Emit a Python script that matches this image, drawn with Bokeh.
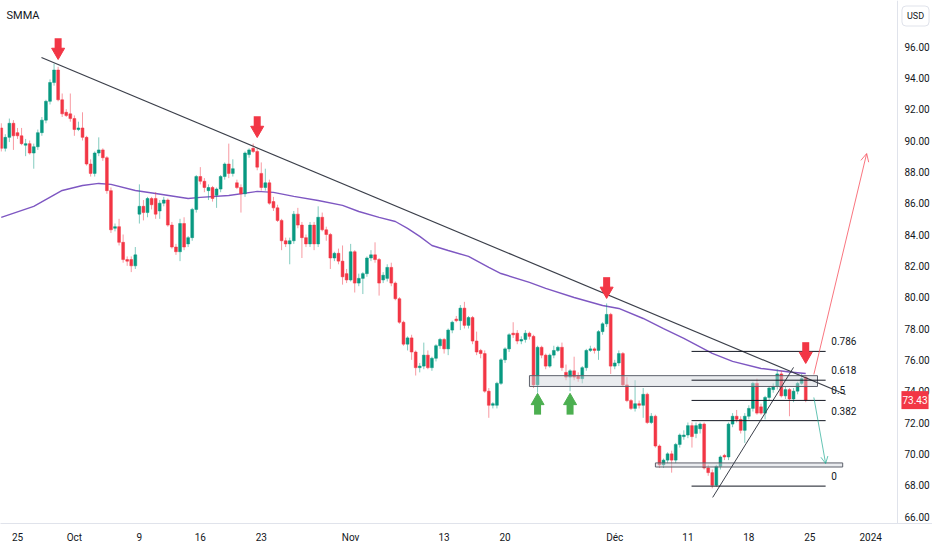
from bokeh.plotting import figure
from bokeh.models import (ColumnDataSource, FixedTicker, Range1d, Label, Arrow,
                          OpenHead, NumeralTickFormatter, Span)
from bokeh.core.properties import value
from bokeh.embed import file_html
from bokeh.resources import INLINE

# ---------------- data ----------------
# one candle every third of a trading day, index 0 = 25 Sep 2023 (first candle of that day)
first_index = -4
opens = [
    90.8, 89.5, 90.2, 91.1, 90.5, 90.3, 89.7, 89.8, 89.2, 89.6,
    90.5, 91.3, 92.5, 93.7, 94.5, 92.6, 91.8, 91.7, 91.4, 90.7,
    90.8, 90.2, 88.5, 87.9, 89.2, 89.4, 88.9, 86.8, 84.4, 84.5,
    83.5, 82.4, 82.4, 82.0, 85.3, 85.8, 85.4, 86.3, 86.3, 85.5,
    86.0, 86.2, 84.6, 83.2, 82.9, 84.7, 83.4, 83.8, 85.6, 87.7,
    87.4, 86.8, 87.0, 86.5, 86.9, 87.7, 88.5, 87.9, 87.3, 87.0,
    86.6, 89.1, 89.5, 89.3, 87.9, 87.0, 87.3, 86.1, 85.7, 84.9,
    83.6, 83.4, 83.6, 85.3, 84.6, 83.8, 83.4, 84.6, 83.4, 85.1,
    84.3, 84.0, 82.5, 82.8, 82.3, 81.5, 81.1, 82.9, 80.9, 81.2,
    81.5, 82.5, 82.7, 82.4, 81.1, 81.2, 81.9, 80.9, 79.9, 78.4,
    77.0, 77.4, 76.5, 75.5, 75.6, 76.3, 75.5, 76.1, 76.9, 77.3,
    76.7, 77.9, 78.6, 78.5, 79.3, 78.2, 78.7, 77.2, 76.6, 76.4,
    74.0, 73.1, 73.1, 74.5, 76.0, 76.7, 77.7, 77.7, 77.2, 77.3,
    77.7, 77.5, 74.4, 76.8, 76.3, 75.6, 76.3, 76.6, 76.8, 75.2,
    74.9, 75.3, 75.0, 74.8, 75.5, 76.6, 76.7, 76.6, 77.8, 78.3,
    78.9, 75.6, 75.8, 76.4, 74.4, 73.4, 72.9, 73.2, 73.1, 73.8,
    72.0, 72.4, 70.5, 69.3, 69.6, 70.0, 69.6, 70.6, 71.1, 71.2,
    71.8, 71.3, 71.6, 71.9, 69.1, 68.8, 68.0, 69.2, 69.9, 69.8,
    71.9, 72.4, 72.2, 71.5, 72.4, 72.9, 74.5, 73.0, 72.6, 73.6,
    74.1, 74.3, 75.1, 73.7, 74.1, 73.5, 74.0, 74.5, 74.9,
]
highs = [
    91.1, 90.4, 91.4, 91.3, 90.8, 90.8, 90.1, 90.0, 89.8, 90.7,
    91.5, 92.6, 93.9, 94.9, 94.7, 93.0, 92.0, 93.0, 91.6, 91.2,
    91.8, 90.3, 88.8, 89.3, 90.2, 89.5, 89.0, 87.0, 84.7, 85.0,
    84.0, 82.6, 82.6, 83.2, 87.2, 86.2, 86.4, 86.4, 86.7, 86.2,
    86.4, 86.3, 84.8, 83.4, 85.0, 85.1, 83.9, 85.7, 87.8, 88.3,
    87.6, 87.2, 87.1, 87.0, 87.8, 88.6, 89.8, 88.8, 87.5, 87.2,
    89.3, 89.5, 89.8, 89.5, 88.6, 88.2, 87.5, 86.4, 85.9, 85.0,
    83.8, 83.8, 85.5, 85.7, 84.8, 84.0, 84.8, 84.8, 85.8, 85.4,
    84.5, 84.1, 82.9, 83.1, 83.3, 81.8, 83.4, 83.0, 81.5, 81.6,
    82.6, 83.0, 83.5, 82.5, 81.6, 82.1, 82.2, 81.0, 80.0, 78.5,
    77.5, 77.6, 76.6, 75.8, 77.1, 76.6, 76.2, 77.0, 77.4, 77.4,
    78.0, 78.5, 78.8, 79.5, 79.7, 78.8, 78.8, 77.8, 76.7, 76.6,
    74.2, 73.3, 74.6, 76.1, 76.8, 77.7, 78.4, 77.9, 77.5, 77.9,
    77.8, 77.6, 76.9, 76.9, 76.4, 76.4, 76.9, 76.9, 77.1, 75.7,
    75.4, 76.2, 75.2, 75.6, 76.7, 76.9, 76.8, 77.9, 78.4, 79.6,
    79.0, 76.0, 76.6, 76.5, 74.9, 73.5, 74.7, 73.4, 74.2, 73.9,
    72.6, 72.5, 70.6, 69.7, 70.1, 70.2, 70.7, 71.3, 71.5, 72.0,
    72.0, 72.0, 72.0, 72.0, 69.3, 69.0, 69.3, 69.9, 70.0, 72.0,
    72.6, 72.8, 72.4, 72.6, 73.1, 74.6, 74.8, 73.2, 73.7, 74.3,
    74.5, 75.4, 75.3, 74.3, 74.2, 74.2, 74.6, 75.1, 75.0,
]
lows = [
    89.3, 89.3, 89.9, 89.4, 90.1, 89.7, 89.0, 89.1, 88.2, 89.4,
    90.3, 91.1, 92.3, 93.5, 92.5, 91.5, 91.5, 91.2, 90.3, 90.6,
    90.0, 88.4, 87.7, 87.7, 89.0, 88.7, 86.6, 84.1, 84.2, 83.3,
    82.2, 82.0, 81.6, 81.8, 84.7, 84.9, 85.1, 85.6, 85.0, 85.0,
    85.8, 84.5, 83.1, 82.7, 82.3, 83.0, 83.2, 83.6, 85.4, 87.2,
    86.7, 86.2, 86.1, 85.7, 86.7, 87.5, 87.6, 87.7, 86.9, 85.4,
    86.4, 88.9, 89.2, 88.1, 86.8, 86.8, 85.9, 85.5, 84.8, 83.0,
    83.2, 82.1, 83.4, 84.4, 82.5, 83.2, 83.2, 83.0, 83.2, 84.2,
    83.6, 81.8, 82.3, 82.1, 80.8, 80.9, 81.0, 80.3, 80.7, 80.2,
    81.3, 82.3, 82.2, 80.1, 80.9, 81.0, 80.7, 79.8, 78.3, 76.9,
    76.6, 76.0, 75.0, 75.2, 75.4, 75.4, 75.3, 75.9, 76.7, 76.4,
    76.3, 77.7, 78.4, 77.9, 78.0, 78.0, 77.0, 76.3, 76.1, 73.9,
    72.3, 72.9, 72.9, 74.4, 75.8, 76.5, 77.4, 77.0, 77.0, 77.1,
    77.3, 74.2, 73.9, 76.1, 75.4, 75.5, 76.1, 76.5, 75.3, 74.7,
    74.0, 74.7, 74.6, 74.5, 75.3, 76.5, 76.4, 76.0, 77.6, 78.1,
    75.1, 75.4, 75.6, 74.3, 73.3, 72.8, 72.7, 72.9, 72.3, 71.9,
    71.9, 70.4, 69.1, 69.1, 69.4, 68.8, 69.4, 70.4, 70.9, 71.0,
    70.4, 71.0, 71.3, 69.0, 68.6, 67.8, 67.9, 69.0, 69.6, 69.6,
    71.7, 72.0, 71.3, 70.7, 72.2, 72.7, 72.5, 72.5, 72.2, 73.4,
    73.9, 74.1, 73.6, 73.5, 72.4, 73.3, 73.8, 74.4, 73.3,
]
closes = [
    89.5, 90.2, 91.1, 90.3, 90.3, 89.8, 89.8, 89.2, 89.6, 90.5,
    91.3, 92.5, 93.7, 94.5, 92.6, 91.7, 91.6, 91.4, 90.7, 90.8,
    90.2, 88.5, 87.9, 89.2, 89.4, 88.9, 86.8, 84.3, 84.5, 83.5,
    82.4, 82.3, 82.0, 82.7, 85.8, 85.4, 86.3, 85.9, 85.3, 86.0,
    86.2, 84.6, 83.2, 82.9, 84.7, 83.2, 83.8, 85.6, 87.7, 87.4,
    87.0, 87.0, 86.3, 86.9, 87.7, 88.5, 87.9, 88.2, 87.0, 86.6,
    89.2, 89.4, 89.3, 88.3, 87.0, 87.3, 86.0, 85.7, 84.9, 83.6,
    83.4, 83.6, 85.3, 84.6, 83.8, 83.4, 84.6, 83.4, 85.1, 84.3,
    84.0, 82.5, 82.8, 82.3, 81.3, 81.1, 82.9, 80.9, 81.2, 81.5,
    82.5, 82.7, 82.4, 80.9, 81.4, 81.9, 80.9, 79.9, 78.4, 77.0,
    77.4, 76.5, 75.5, 75.6, 76.3, 75.5, 76.1, 76.9, 77.3, 76.7,
    77.9, 78.4, 78.5, 79.3, 78.2, 78.7, 77.2, 76.5, 76.4, 74.0,
    73.1, 73.2, 74.5, 76.0, 76.7, 77.6, 77.6, 77.2, 77.3, 77.7,
    77.5, 74.4, 76.8, 76.3, 75.6, 76.3, 76.6, 76.8, 75.5, 74.9,
    75.3, 74.9, 74.8, 75.5, 76.6, 76.7, 76.6, 77.8, 78.3, 78.9,
    75.6, 75.8, 76.4, 74.4, 73.4, 72.9, 73.2, 73.1, 73.8, 72.0,
    72.4, 70.5, 69.3, 69.6, 70.0, 69.6, 70.6, 71.2, 71.2, 71.8,
    71.1, 71.8, 71.9, 69.1, 68.8, 68.0, 69.2, 69.8, 69.8, 71.9,
    72.4, 72.2, 71.5, 72.4, 72.9, 74.5, 72.6, 72.6, 73.6, 74.2,
    74.3, 75.1, 73.7, 74.1, 73.5, 74.0, 74.5, 74.8, 73.43,
]

# SMMA indicator, read as points along the purple curve
smma_k = [-4, 4, 11, 16, 20, 23, 29, 34, 42, 45, 52, 59, 63, 68, 74, 80, 84, 89,
          93, 96, 99, 102, 106, 111, 116, 119, 126, 130, 137, 144, 148, 154, 159,
          164, 171, 176, 183, 190, 194]
smma_v = [85.09, 85.79, 86.81, 87.13, 87.26, 87.20, 86.81, 86.62, 86.30, 86.37,
          86.49, 86.75, 86.69, 86.43, 86.17, 85.86, 85.47, 85.09, 84.83, 84.39,
          83.88, 83.30, 82.98, 82.60, 81.90, 81.51, 80.94, 80.56, 79.98, 79.47,
          79.28, 78.64, 78.00, 77.37, 76.41, 75.90, 75.45, 75.22, 75.13]

# date axis (candle index of the labelled day)
xtick_k = [0, 14, 30, 45, 60, 82, 105, 120, 147, 165, 180, 195, 210]
xtick_labels = ["25", "Oct", "9", "16", "23", "Nov", "13", "20", "Déc", "11", "18", "25", "2024"]
ytick_values = [66, 68, 70, 72, 74, 76, 78, 80, 82, 84, 86, 88, 90, 92, 94, 96]

# drawings
trend_down_k = [5.9, 203.8]
trend_down_p = [95.30, 73.79]
trend_up_k = [171.1, 191.0]
trend_up_p = [67.22, 75.52]
box_left = [126.0, 157.0]
box_right = [196.9, 203.1]
box_bottom = [74.30, 69.16]
box_top = [74.99, 69.42]
fib_low, fib_high = 67.94, 78.88
fib_levels = [0, 0.382, 0.5, 0.618, 0.786]
fib_texts = ["0", "0.382", "0.5", "0.618", "0.786"]
fib_k = [165.9, 198.9]
fib_label_k = 200.3
down_arrow_k = [10, 59, 145, 194]
down_arrow_tip = [95.17, 90.19, 79.92, 75.77]
up_arrow_k = [128, 136]
up_arrow_tip = [73.86, 73.86]
proj_up = (196.0, 75.07, 209.0, 89.17)
proj_down = (196.0, 73.60, 198.9, 69.38)
last_price = 73.43

# ---------------- layout ----------------
W, H = 932, 550
BB = 27                    # x-axis band
FW, FH = W, H - BB         # the frame runs under the price scale
SCALE_X = 897              # page x of the price-scale separator
X0, XPX = 17.0, 4.063      # page x of candle 0, px per candle
Y96, YPX = 46.0, 15.667    # page y of price 96, px per unit
PX = 1.0 / YPX
x_start = (0 - X0) / XPX
x_end = (FW - X0) / XPX
y_top = 96 + Y96 / YPX
y_bot = 96 - (FH - Y96) / YPX

UP, DOWN = "#089981", "#F23645"
TXT = "#131722"
FONT = "Roboto"

idx = list(range(first_index, first_index + len(closes)))
colors = [UP if c >= o else DOWN for o, c in zip(opens, closes)]
src = ColumnDataSource(dict(
    x=idx, o=opens, h=highs, l=lows, c=closes, color=colors,
    top=[max(o, c) for o, c in zip(opens, closes)],
    bottom=[min(o, c) for o, c in zip(opens, closes)],
))

p = figure(width=W, height=H, x_range=Range1d(x_start, x_end),
           y_range=Range1d(y_bot, y_top), output_backend="svg",
           toolbar_location=None, y_axis_location="right",
           min_border_left=0, min_border_right=0, min_border_top=0,
           min_border_bottom=BB)
p.outline_line_color = None
p.background_fill_color = "white"
p.border_fill_color = "white"
p.xgrid.grid_line_color = None
p.ygrid.grid_line_color = None

# axes
p.yaxis.ticker = FixedTicker(ticks=ytick_values)
p.yaxis.formatter = NumeralTickFormatter(format="0.00")
p.xaxis.ticker = FixedTicker(ticks=xtick_k)
p.xaxis.major_label_overrides = {k: t for k, t in zip(xtick_k, xtick_labels)}
for ax in (p.xaxis, p.yaxis):
    ax.major_tick_line_color = None
    ax.minor_tick_line_color = None
    ax.major_tick_out = 0
    ax.major_tick_in = 0
    ax.minor_tick_out = 0
    ax.minor_tick_in = 0
    ax.major_label_text_color = TXT
    ax.major_label_text_font = FONT
    ax.major_label_text_font_size = "10px"
p.xaxis.axis_line_color = "#E0E3EB"
p.yaxis.axis_line_color = None
p.yaxis.major_label_standoff = -(W - SCALE_X) + 7   # labels sit in the price-scale band
p.xaxis.major_label_standoff = 8

# price-scale separator
p.add_layout(Span(location=(SCALE_X - X0) / XPX, dimension="height",
                  line_color="#E0E3EB", line_width=1))

# SMMA
p.line(smma_k, smma_v, line_color="#7E57C2", line_width=1.4)

# candles
p.segment(x0="x", y0="l", x1="x", y1="h", source=src, line_color="color",
          line_alpha=0.5, line_width=1)
p.vbar(x="x", width=0.7, top="top", bottom="bottom", source=src,
       fill_color="color", line_color="color", line_width=0.5)

# boxes
p.quad(left=box_left, right=box_right, bottom=box_bottom, top=box_top,
       fill_color="#D1D4DC", fill_alpha=0.45, line_color="#5D606B", line_width=1)

# trend lines
p.line(trend_down_k, trend_down_p, line_color="#3B3F4A", line_width=1.2)
p.line(trend_up_k, trend_up_p, line_color="#3B3F4A", line_width=1)

# fibonacci
fib_prices = [fib_low + lv * (fib_high - fib_low) for lv in fib_levels]
p.segment(x0=[fib_k[0]] * len(fib_prices), y0=fib_prices,
          x1=[fib_k[1]] * len(fib_prices), y1=fib_prices,
          line_color="#131722", line_width=1)
p.text(x=[fib_label_k] * len(fib_prices), y=[v + 10 * PX for v in fib_prices],
       text=fib_texts, text_font=value(FONT), text_font_size="10px",
       text_color=TXT, text_baseline="middle", text_align="left")

# signal arrows
tri = 13
h_tri = tri * 0.866
p.scatter(down_arrow_k, [t + (2 * h_tri / 3) * PX for t in down_arrow_tip],
          marker="inverted_triangle", size=tri, fill_color=DOWN, line_color=DOWN)
p.rect(down_arrow_k, [t + (h_tri - 1 + 5.5) * PX for t in down_arrow_tip],
       width=7, height=11, width_units="screen", height_units="screen",
       fill_color=DOWN, line_color=None)
GREEN = "#4CAF50"
p.scatter(up_arrow_k, [t - (2 * h_tri / 3) * PX for t in up_arrow_tip],
          marker="triangle", size=tri, fill_color=GREEN, line_color=GREEN)
p.rect(up_arrow_k, [t - (h_tri - 1 + 5.5) * PX for t in up_arrow_tip],
       width=7, height=11, width_units="screen", height_units="screen",
       fill_color=GREEN, line_color=None)

# projection arrows
p.add_layout(Arrow(end=OpenHead(size=8, line_color="#F7525F", line_width=1, line_alpha=0.8),
                   x_start=proj_up[0], y_start=proj_up[1], x_end=proj_up[2], y_end=proj_up[3],
                   line_color="#F7525F", line_width=1, line_alpha=0.8))
p.add_layout(Arrow(end=OpenHead(size=7, line_color="#22AB94", line_width=1, line_alpha=0.7),
                   x_start=proj_down[0], y_start=proj_down[1], x_end=proj_down[2], y_end=proj_down[3],
                   line_color="#22AB94", line_width=1, line_alpha=0.7))

# texts
p.add_layout(Label(x=6, y=FH - 15, x_units="screen", y_units="screen", text="SMMA",
                   text_font=FONT, text_font_size="11px", text_color=TXT,
                   text_baseline="middle"))
p.add_layout(Label(x=915, y=FH - 15.5, x_units="screen", y_units="screen", text="USD",
                   text_font=FONT, text_font_size="9px", text_color=TXT,
                   text_baseline="middle", text_align="center",
                   border_line_color="#E0E3EB", background_fill_color="white",
                   padding=5, border_radius=4))
p.add_layout(Label(x=914.5, y=last_price, x_units="screen", y_units="data",
                   text="%.2f" % last_price, text_font=FONT, text_font_size="10px",
                   text_color="white", text_baseline="middle", text_align="center",
                   background_fill_color=DOWN, padding=(1, 5)))

open("out.html", "w").write(file_html(p, INLINE))
